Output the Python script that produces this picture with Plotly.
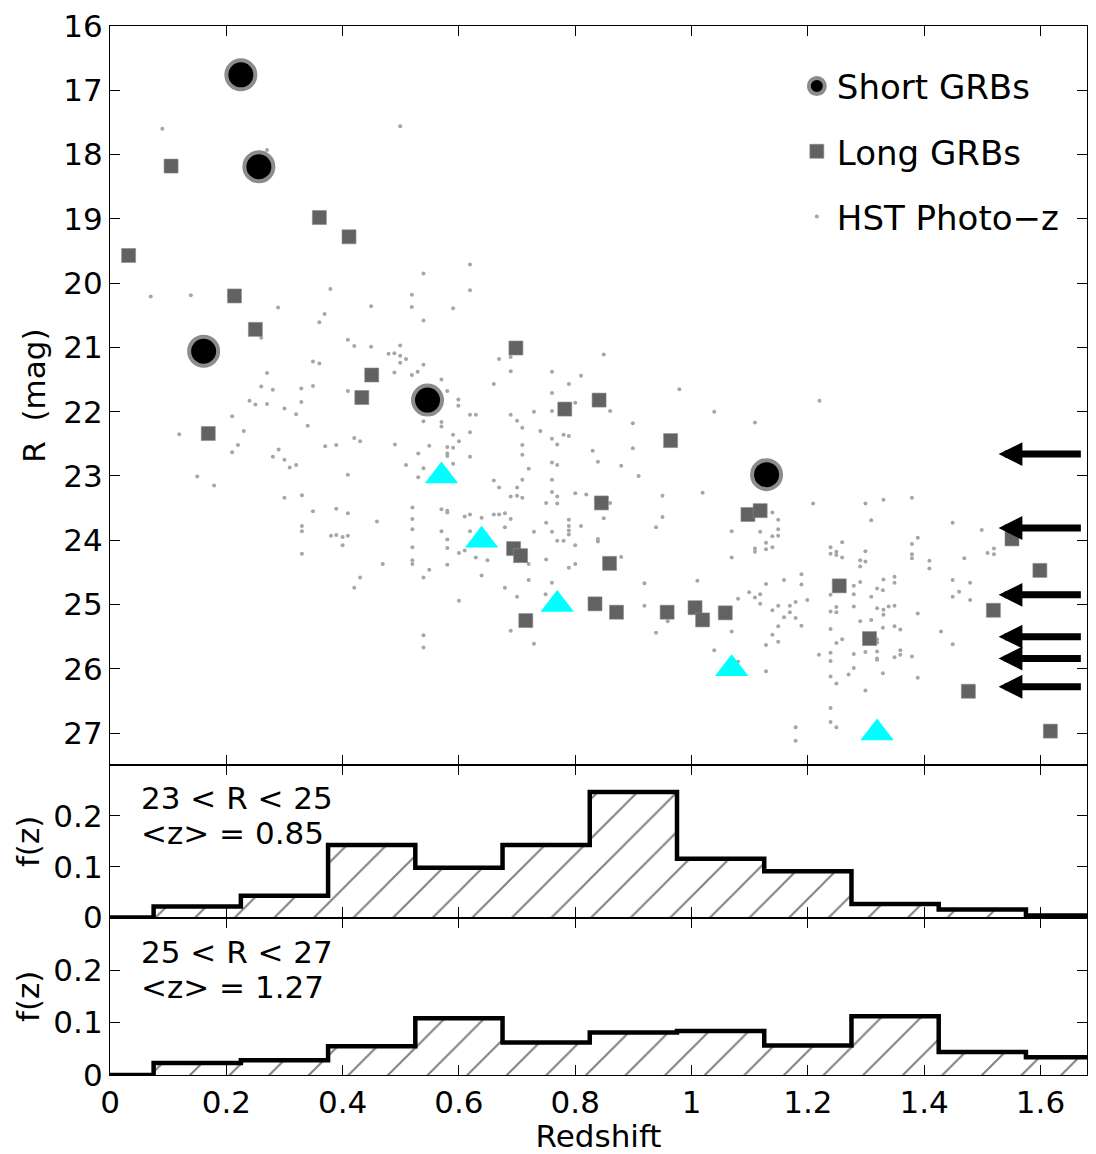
import plotly.graph_objects as go

# ---------------- data ----------------
short_z = [0.225, 0.256, 0.161, 0.546, 1.129]
short_R = [16.76, 18.19, 21.06, 21.82, 22.98]

long_z = [0.032, 0.105, 0.214, 0.250, 0.360, 0.411, 0.169, 0.450, 0.433, 0.698,
          0.782, 0.841, 0.964, 0.845, 0.859, 0.694, 0.706, 0.715, 0.834, 0.871,
          0.958, 1.006, 1.019, 1.058, 1.097, 1.118, 1.254, 1.306, 1.476, 1.519,
          1.551, 1.599, 1.617]
long_R = [19.57, 18.18, 20.20, 20.72, 18.98, 19.28, 22.34, 21.43, 21.78, 21.01,
          21.96, 21.82, 22.45, 23.42, 24.36, 24.13, 24.24, 25.25, 24.99, 25.12,
          25.12, 25.05, 25.24, 25.13, 23.60, 23.54, 24.71, 25.53, 26.35, 25.09,
          23.98, 24.47, 26.97]

tri_z = [0.570, 0.639, 0.769, 1.069, 1.319]
tri_R = [23.0, 24.0, 25.0, 26.0, 27.0]

arrow_R = [22.66, 23.81, 24.85, 25.50, 25.84, 26.28]
arrow_tip_z = 1.528
arrow_tail_z = 1.672

hst_points = [
    (0.090, 17.60), (0.499, 17.56), (0.270, 17.93), (0.070, 20.21), (0.139, 20.19),
    (0.289, 20.38), (0.379, 20.09), (0.369, 20.48), (0.360, 20.61), (0.449, 20.36),
    (0.539, 19.85), (0.519, 20.18), (0.519, 20.37), (0.539, 20.58), (0.260, 20.85),
    (0.409, 20.88), (0.420, 20.98), (0.449, 20.99), (0.499, 20.97), (0.479, 21.10),
    (0.489, 21.09), (0.499, 21.13), (0.509, 21.18), (0.499, 21.24), (0.489, 21.39),
    (0.519, 21.43), (0.529, 21.38), (0.539, 21.27), (0.349, 21.22), (0.360, 21.25),
    (0.270, 21.40), (0.260, 21.61), (0.280, 21.66), (0.329, 21.64), (0.349, 21.60),
    (0.409, 21.68), (0.240, 21.83), (0.250, 21.89), (0.270, 21.88), (0.300, 21.95),
    (0.329, 21.85), (0.320, 22.04), (0.210, 22.07), (0.340, 22.22), (0.230, 22.30),
    (0.539, 22.15),
    (0.570, 21.50), (0.580, 21.68), (0.220, 22.52), (0.210, 22.63), (0.119, 22.35),
    (0.150, 23.01), (0.179, 23.15), (0.280, 22.70), (0.290, 22.59), (0.300, 22.75),
    (0.309, 22.87), (0.320, 22.83), (0.370, 22.54), (0.389, 22.52), (0.420, 22.41),
    (0.430, 22.46), (0.409, 22.98), (0.490, 22.51), (0.570, 22.16), (0.570, 22.23),
    (0.590, 22.36), (0.600, 22.46), (0.590, 22.56), (0.580, 22.55), (0.580, 22.65),
    (0.580, 22.69), (0.549, 22.53), (0.530, 22.65), (0.590, 22.81), (0.619, 22.05),
    (0.629, 22.05), (0.619, 22.32), (0.619, 22.70), (0.509, 22.83), (0.539, 22.88),
    (0.530, 23.02), (0.660, 21.57), (0.669, 21.18), (0.689, 21.15), (0.689, 21.37),
    (0.689, 22.05), (0.700, 22.14), (0.709, 22.25), (0.709, 22.52), (0.709, 22.67),
    (0.720, 22.89), (0.709, 23.06), (0.729, 22.00), (0.740, 22.30), (0.760, 21.38),
    (0.760, 21.71), (0.760, 21.99), (0.760, 22.42), (0.769, 22.51), (0.780, 22.36),
    (0.789, 22.38), (0.789, 21.57), (0.810, 21.44), (0.800, 21.86), (0.830, 22.61),
    (0.839, 22.78), (0.760, 22.79), (0.769, 22.83), (0.760, 23.06), (0.660, 23.07),
    (0.669, 23.18), (0.700, 23.18), (0.700, 23.31), (0.689, 23.32), (0.709, 23.34),
    (0.750, 23.42), (0.760, 23.25), (0.769, 23.32), (0.769, 23.43), (0.800, 23.27),
    (0.819, 23.29), (0.789, 23.68), (0.789, 23.78), (0.789, 23.85), (0.789, 23.91),
    (0.810, 23.78), (0.750, 23.73), (0.760, 23.87), (0.769, 24.01), (0.780, 24.01),
    (0.800, 24.08), (0.800, 24.37), (0.789, 24.43), (0.750, 24.30), (0.720, 24.37),
    (0.720, 24.62), (0.729, 23.87), (0.679, 23.58), (0.689, 23.67), (0.679, 23.80),
    (0.660, 23.60), (0.669, 23.60), (0.679, 24.74), (0.700, 24.88), (0.689, 25.41),
    (0.729, 25.61), (0.749, 24.84), (0.639, 23.65), (0.619, 23.86), (0.610, 23.63),
    (0.619, 23.60), (0.649, 24.31), (0.629, 24.27), (0.639, 24.55), (0.600, 24.20),
    (0.610, 24.16), (0.600, 24.94), (0.580, 23.99), (0.580, 24.12), (0.580, 24.38),
    (0.570, 23.86), (0.570, 23.52), (0.580, 23.54), (0.580, 23.57), (0.549, 24.46),
    (0.539, 24.58), (0.520, 23.49), (0.520, 23.67), (0.520, 23.83), (0.520, 24.11),
    (0.520, 24.31), (0.520, 24.37), (0.539, 25.48), (0.539, 25.67), (0.469, 24.37),
    (0.459, 23.71), (0.430, 24.58), (0.420, 24.74), (0.409, 23.58), (0.389, 23.51),
    (0.380, 23.93), (0.389, 23.92), (0.400, 23.95), (0.409, 23.93), (0.400, 24.08),
    (0.349, 23.55), (0.330, 23.30), (0.300, 23.34), (0.330, 23.78), (0.330, 23.86),
    (0.330, 24.21),
    (0.619, 19.71), (0.619, 20.11), (0.590, 20.39), (0.849, 21.11), (0.860, 21.99),
    (0.899, 22.18), (0.979, 21.65), (1.039, 22.00), (1.109, 22.17), (0.599, 21.81),
    (0.599, 21.91), (1.220, 21.83),
    (0.879, 22.84), (0.899, 22.57), (0.909, 23.00), (0.860, 23.42), (0.950, 23.31),
    (1.019, 23.26), (0.950, 23.64), (0.939, 23.80), (0.849, 23.66), (0.839, 23.98),
    (0.839, 24.02), (0.879, 24.26), (0.760, 24.66), (0.919, 24.67), (0.919, 25.02),
    (0.939, 25.44), (0.959, 25.26), (1.010, 24.63), (1.069, 23.86), (1.069, 24.27),
    (1.118, 23.87), (1.128, 24.04), (1.128, 24.14), (1.109, 24.13), (1.109, 24.18),
    (1.069, 25.42), (1.039, 25.71), (1.080, 25.89), (1.128, 25.63), (1.128, 26.04),
    (1.080, 24.91), (1.099, 24.81), (1.109, 24.89), (1.118, 24.84), (1.118, 24.99),
    (1.128, 24.68),
    (1.209, 23.43), (1.299, 23.43), (1.330, 23.37), (1.379, 23.34), (1.309, 23.69),
    (1.139, 23.57), (1.149, 23.68), (1.149, 23.83), (1.149, 23.93), (1.139, 23.94),
    (1.139, 24.11), (1.239, 24.11), (1.239, 24.21), (1.249, 24.18), (1.249, 24.23),
    (1.259, 24.03), (1.259, 24.27), (1.299, 24.17), (1.290, 24.31), (1.299, 24.33),
    (1.290, 24.41), (1.379, 24.06), (1.389, 23.96), (1.379, 24.22), (1.379, 24.28),
    (1.409, 24.32), (1.409, 24.44), (1.449, 23.73), (1.499, 23.84), (1.469, 24.28),
    (1.509, 24.20), (1.520, 24.13), (1.520, 24.22), (1.189, 24.53), (1.189, 24.69),
    (1.159, 24.62), (1.199, 24.93), (1.149, 25.02), (1.139, 25.09), (1.169, 25.02),
    (1.169, 25.12), (1.179, 24.96), (1.159, 25.20), (1.179, 25.21), (1.149, 25.34),
    (1.189, 25.33), (1.139, 25.47), (1.149, 25.58), (1.239, 24.85), (1.239, 25.11),
    (1.249, 25.04), (1.249, 25.12), (1.279, 24.71), (1.279, 24.84), (1.290, 24.65),
    (1.279, 25.03), (1.309, 24.88), (1.319, 24.75), (1.329, 24.78), (1.330, 24.61),
    (1.349, 24.57), (1.349, 24.66), (1.319, 25.06), (1.330, 25.08), (1.330, 25.16),
    (1.339, 25.03), (1.349, 25.02), (1.309, 25.24), (1.290, 25.26), (1.259, 25.54),
    (1.249, 25.60), (1.239, 25.38), (1.329, 25.36), (1.349, 25.34), (1.359, 25.39),
    (1.319, 25.54), (1.319, 25.59), (1.219, 25.78), (1.239, 25.75), (1.239, 25.88),
    (1.279, 25.77), (1.299, 25.74), (1.319, 25.73), (1.319, 25.84), (1.319, 25.86),
    (1.349, 25.82), (1.359, 25.71), (1.359, 25.78), (1.379, 25.81), (1.279, 25.99),
    (1.270, 26.09), (1.329, 26.07), (1.239, 26.12), (1.249, 26.23), (1.299, 26.34),
    (1.389, 26.14), (1.239, 26.61), (1.239, 26.83), (1.249, 26.91), (1.179, 26.91),
    (1.179, 27.12), (1.389, 25.14), (1.429, 25.42), (1.449, 24.62), (1.460, 24.80),
    (1.449, 24.88), (1.479, 24.66), (1.479, 24.93), (1.449, 25.62),
]
hst_z = [p[0] for p in hst_points]
hst_R = [p[1] for p in hst_points]

# histograms (bin width 0.15)
bin_left = [0.075, 0.225, 0.375, 0.525, 0.675, 0.825, 0.975, 1.125, 1.275, 1.425, 1.575]
bin_width = 0.15
hist_bright = [0.022, 0.043, 0.143, 0.098, 0.143, 0.247, 0.116, 0.091, 0.027, 0.016, 0.004]
hist_faint = [0.023, 0.028, 0.055, 0.108, 0.062, 0.081, 0.084, 0.056, 0.112, 0.044, 0.034]

label_bright = ["23 &lt; R &lt; 25", "&lt;z&gt; = 0.85"]
label_faint = ["25 &lt; R &lt; 27", "&lt;z&gt; = 1.27"]

x_ticks = [0, 0.2, 0.4, 0.6, 0.8, 1.0, 1.2, 1.4, 1.6]
x_ticktext = ["0", "0.2", "0.4", "0.6", "0.8", "1", "1.2", "1.4", "1.6"]
R_ticks = list(range(16, 28))
f_ticks = [0, 0.1, 0.2]
f_ticktext = ["0", "0.1", "0.2"]

FONT = "DejaVu Sans, Liberation Sans, Arial, sans-serif"
FS = 31

fig = go.Figure()

# top panel
fig.add_trace(go.Scatter(x=hst_z, y=hst_R, mode="markers", name="HST Photo\u2212z",
                         legendgroup="c", legendrank=3,
                         marker=dict(symbol="circle", size=4, color="#a6a6a6"),
                         xaxis="x", yaxis="y"))
fig.add_trace(go.Scatter(x=long_z, y=long_R, mode="markers", name="Long GRBs",
                         legendgroup="b", legendrank=2,
                         marker=dict(symbol="square", size=14, color="#626262",
                                     line=dict(width=0.6, color="#8a8a8a")),
                         xaxis="x", yaxis="y"))
fig.add_trace(go.Scatter(x=short_z, y=short_R, mode="markers", name="Short GRBs",
                         legendgroup="a", legendrank=1,
                         marker=dict(symbol="circle", size=29, color="black",
                                     line=dict(width=4, color="#8c8c8c")),
                         xaxis="x", yaxis="y"))
fig.add_trace(go.Scatter(x=tri_z, y=tri_R, mode="markers", showlegend=False,
                         marker=dict(symbol="triangle-up", size=29, color="#00ffff"),
                         xaxis="x", yaxis="y"))

# histograms
centers = [b + bin_width / 2 for b in bin_left]
step_x = [0.0] + bin_left + [bin_left[-1] + bin_width]
for vals, xa, ya in [(hist_bright, "x2", "y2"), (hist_faint, "x3", "y3")]:
    fig.add_trace(go.Bar(x=centers, y=vals, width=bin_width, showlegend=False,
                         marker=dict(color="white", line=dict(width=0),
                                     pattern=dict(shape="/", fgcolor="black", bgcolor="white",
                                                  size=28, solidity=0.07)),
                         xaxis=xa, yaxis=ya))
    step_y = [0.0] + vals + [vals[-1]]
    fig.add_trace(go.Scatter(x=step_x, y=step_y, mode="lines", showlegend=False,
                             line=dict(shape="hv", color="black", width=4.5),
                             xaxis=xa, yaxis=ya))

axis_common = dict(showline=True, linecolor="black", linewidth=1.3, mirror="ticks",
                   ticks="inside", ticklen=10, tickwidth=1.2, tickcolor="black",
                   showgrid=False, zeroline=False,
                   tickfont=dict(family=FONT, size=FS, color="black"))

top_lo = (1075 - 764) / 1053
mid_lo = (1075 - 917) / 1053

fig.update_layout(
    width=1096, height=1154,
    margin=dict(l=110, r=8, t=22, b=79),
    paper_bgcolor="white", plot_bgcolor="white",
    font=dict(family=FONT, size=FS, color="black"),
    bargap=0,
    xaxis=dict(axis_common, range=[0, 1.68], tickvals=x_ticks, showticklabels=False,
               anchor="y", domain=[0, 1]),
    yaxis=dict(axis_common, range=[27.5, 16], tickvals=R_ticks, anchor="x",
               domain=[top_lo, 1],
               title=dict(text="R  (mag)", font=dict(family=FONT, size=FS), standoff=8)),
    xaxis2=dict(axis_common, range=[0, 1.68], tickvals=x_ticks, showticklabels=False,
                anchor="y2", domain=[0, 1], matches="x"),
    yaxis2=dict(axis_common, range=[0, 0.3], tickvals=f_ticks, ticktext=f_ticktext,
                anchor="x2", domain=[mid_lo, top_lo],
                title=dict(text="f(z)", font=dict(family=FONT, size=FS), standoff=4)),
    xaxis3=dict(axis_common, range=[0, 1.68], tickvals=x_ticks, ticktext=x_ticktext,
                anchor="y3", domain=[0, 1], matches="x",
                title=dict(text="Redshift", font=dict(family=FONT, size=FS), standoff=2)),
    yaxis3=dict(axis_common, range=[0, 0.3], tickvals=f_ticks, ticktext=f_ticktext,
                anchor="x3", domain=[0, mid_lo],
                title=dict(text="f(z)", font=dict(family=FONT, size=FS), standoff=4)),
    legend=dict(x=0.703, y=0.970, xanchor="left", yanchor="top",
                bgcolor="rgba(0,0,0,0)", borderwidth=0,
                font=dict(family=FONT, size=34, color="black"),
                tracegroupgap=18, traceorder="grouped"),
    showlegend=True,
)

annotations = []
for R in arrow_R:
    annotations.append(dict(x=arrow_tip_z, y=R, ax=arrow_tail_z, ay=R,
                            xref="x", yref="y", axref="x", ayref="y",
                            text="", showarrow=True, arrowhead=2, arrowsize=0.68,
                            arrowwidth=7, arrowcolor="black"))
for lines, xr, yr in [(label_bright, "x2", "y2"), (label_faint, "x3", "y3")]:
    for txt, yv in zip(lines, [0.235, 0.167]):
        annotations.append(dict(x=0.05, y=yv, xref=xr, yref=yr, text=txt, showarrow=False,
                                xanchor="left", yanchor="middle",
                                font=dict(family=FONT, size=FS, color="black")))
fig.update_layout(annotations=annotations)

fig.write_html("out.html")
